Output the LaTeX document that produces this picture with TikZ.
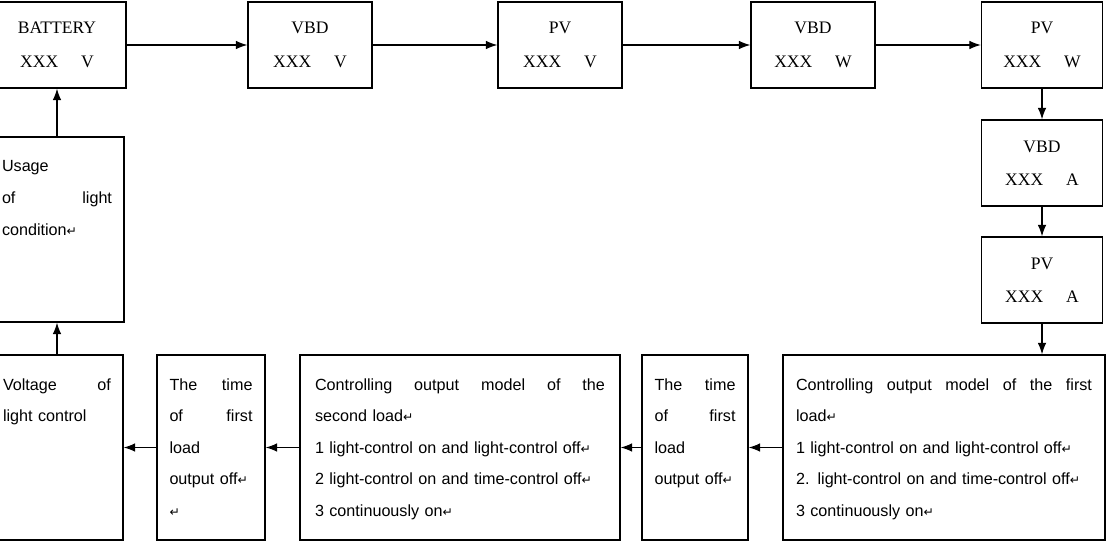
\documentclass[tikz,border=0pt]{standalone}
\usepackage{fontspec}
\setmainfont{Liberation Sans}
\newfontfamily\boxserif{Liberation Serif}
\newfontfamily\retfont{DejaVu Sans}
\usetikzlibrary{arrows.meta,positioning}
\newcommand{\ret}{{\retfont\scriptsize ↵}}
\newcommand{\unitgap}{\hspace{1.3em}}
\tikzset{
  valbox/.style={
    draw,
    line width=0.8pt,
    minimum width=2.48cm,
    minimum height=1.72cm,
    align=center,
    font=\boxserif\fontsize{10}{19}\selectfont
  },
  modebox/.style={
    draw,
    line width=0.8pt,
    inner xsep=0.3cm,
    inner ysep=0.45cm,
    text height=0.25cm,
    text depth=2.55cm,
    align=left,
    font=\fontsize{9.2}{18}\selectfont
  },
  flowarrow/.style={-{Latex[length=2.3mm]},line width=0.6pt}
}
\begin{document}
\begin{tikzpicture}
    \useasboundingbox (0,0) rectangle (22.18,-10.86);
    % readings shown one after another
    \node[valbox,minimum width=2.76cm] (bat) at (1.14,-0.9) {BATTERY\\XXX\unitgap V};
    \node[valbox] (vbdv) at (6.2,-0.9) {VBD\\XXX\unitgap V};
    \node[valbox] (pvv) at (11.2,-0.9) {PV\\XXX\unitgap V};
    \node[valbox] (vbdw) at (16.26,-0.9) {VBD\\XXX\unitgap W};
    \node[valbox,minimum width=2.42cm] (pvw) at (20.84,-0.9) {PV\\XXX\unitgap W};
    \node[valbox,minimum width=2.42cm] (vbda) at (20.84,-3.26) {VBD\\XXX\unitgap A};
    \node[valbox,minimum width=2.42cm] (pva) at (20.84,-5.6) {PV\\XXX\unitgap A};
    % load settings
    \node[modebox,inner xsep=0.26cm,text width=5.92cm] (firstmode) at (18.88,-8.95) {Controlling\hfill output\hfill model\hfill of\hfill the\hfill first\\load\ret\\1 light-control on and light-control off\ret\\2. light-control on and time-control off\ret\\3 continuously on\ret};
    \node[modebox,inner xsep=0.25cm,text width=1.62cm] (firsttime) at (13.9,-8.95) {The\hfill time\\of\hfill first\\load\\output off\ret};
    \node[modebox,text width=5.8cm] (secondmode) at (9.2,-8.95) {Controlling\hfill output\hfill model\hfill of\hfill the\\second load\ret\\1 light-control on and light-control off\ret\\2 light-control on and time-control off\ret\\3 continuously on\ret};
    \node[modebox,inner xsep=0.25cm,text width=1.66cm] (secondtime) at (4.22,-8.95) {The\hfill time\\of\hfill first\\load\\output off\ret\\\ret};
    \node[modebox,inner xsep=0.24cm,text width=2.16cm] (lightvolt) at (1.14,-8.95) {Voltage\hfill of\\light control};
    \node[modebox,inner xsep=0.24cm,text width=2.2cm] (lightuse) at (1.14,-4.59) {Usage\\of\hfill light\\condition\ret};
    \draw[flowarrow] (bat) -- (vbdv);
    \draw[flowarrow] (vbdv) -- (pvv);
    \draw[flowarrow] (pvv) -- (vbdw);
    \draw[flowarrow] (vbdw) -- (pvw);
    \draw[flowarrow] (pvw) -- (vbda);
    \draw[flowarrow] (vbda) -- (pva);
    \draw[flowarrow] (pva.south) -- (pva.south |- firstmode.north);
    \draw[flowarrow] (firstmode) -- (firsttime);
    \draw[flowarrow] (firsttime) -- (secondmode);
    \draw[flowarrow] (secondmode) -- (secondtime);
    \draw[flowarrow] (secondtime) -- (lightvolt);
    \draw[flowarrow] (lightvolt) -- (lightuse);
    \draw[flowarrow] (lightuse) -- (bat);
\end{tikzpicture}
\end{document}
